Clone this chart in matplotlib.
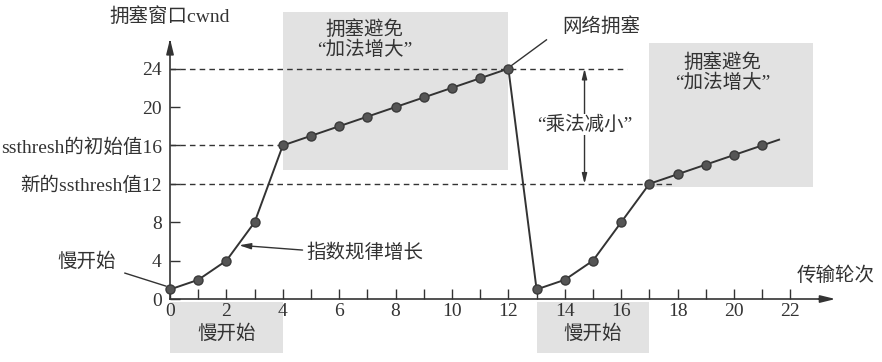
import matplotlib.pyplot as plt
from matplotlib.patches import Rectangle

plt.rcParams['font.family'] = ['Liberation Serif', 'Noto Sans CJK SC', 'DejaVu Sans']

# transmission rounds and cwnd values
rounds = [0, 1, 2, 3, 4, 5, 6, 7, 8, 9, 10, 11, 12, 13, 14, 15, 16, 17, 18, 19, 20, 21]
cwnd = [1, 2, 4, 8, 16, 17, 18, 19, 20, 21, 22, 23, 24, 1, 2, 4, 8, 12, 13, 14, 15, 16]
tail_round, tail_cwnd = 21.6, 16.6

x_ticks = [0, 2, 4, 6, 8, 10, 12, 14, 16, 18, 20, 22]
y_ticks = [0, 4, 8, 12, 16, 20, 24]
y_labels = ['0', '4', '8', '新的ssthresh值12', 'ssthresh的初始值16', '20', '24']

# shaded phases: (x0, x1, y0, y1)
avoid_boxes = [(4, 12, 13.4, 29.9), (17, 22.8, 11.7, 26.7)]
slow_boxes = [(0, 4), (13, 17)]

ink = '#333333'
shade = '#e2e2e2'
fs = 14

fig = plt.figure(figsize=(8.82, 3.62), dpi=100)
ax = fig.add_axes([0, 0, 1, 1])
ax.set_xlim(-6.03, 25.25)
ax.set_ylim(-6.56, 31.15)
ax.patch.set_alpha(0)

for x0, x1, y0, y1 in avoid_boxes:
    ax.add_patch(Rectangle((x0, y0), x1 - x0, y1 - y0, color=shade, lw=0, zorder=0))
for x0, x1 in slow_boxes:
    ax.add_patch(Rectangle((x0, -5.6), x1 - x0, 5.3, color=shade, lw=0, zorder=0))
    ax.text((x0 + x1) / 2, -3.6, '慢开始', ha='center', va='center', fontsize=fs, color=ink)

# dashed reference lines
ax.plot([0, 16.2], [24, 24], ls=(0, (4, 3)), color=ink, lw=1)
ax.plot([0, 4], [16, 16], ls=(0, (4, 3)), color=ink, lw=1)
ax.plot([0, 17.9], [12, 12], ls=(0, (4, 3)), color=ink, lw=1)

xs = rounds + [tail_round]
ys = cwnd + [tail_cwnd]
ax.plot(xs, ys, color=ink, lw=1.4, marker='o', ms=6.5, mfc='#555555', mec='#3a3a3a',
        markevery=list(range(len(rounds))), zorder=3)

# axes as arrows
for s in ['top', 'right']:
    ax.spines[s].set_visible(False)
ax.spines['left'].set_position(('data', 0))
ax.spines['bottom'].set_position(('data', 0))
ax.spines['left'].set_bounds(0, 26.5)
ax.spines['bottom'].set_bounds(0, 23)
for s in ['left', 'bottom']:
    ax.spines[s].set_color(ink)
    ax.spines[s].set_linewidth(1.2)
ax.annotate('', xy=(0, 27.4), xytext=(0, 26.3),
            arrowprops=dict(arrowstyle='-|>,head_length=0.9,head_width=0.22', color=ink, lw=1.2))
ax.annotate('', xy=(23.7, 0), xytext=(22.9, 0),
            arrowprops=dict(arrowstyle='-|>,head_length=0.9,head_width=0.22', color=ink, lw=1.2))

ax.set_xticks(x_ticks)
ax.set_xticklabels([str(v) for v in x_ticks])
ax.set_xticks(rounds[1::2], minor=True)
ax.set_yticks(y_ticks)
ax.set_yticklabels(y_labels)
ax.tick_params(axis='x', which='both', direction='in', length=7, width=1, color=ink,
               labelsize=fs, labelcolor=ink, pad=3)
ax.tick_params(axis='y', direction='in', length=7, width=1, color=ink,
               labelsize=fs, labelcolor=ink, pad=6)

ax.text(0, 29.4, '拥塞窗口cwnd', ha='center', va='center', fontsize=fs, color=ink)
ax.text(23.6, 2.4, '传输轮次', ha='center', va='center', fontsize=fs, color=ink)
ax.text(6.9, 27.0, '拥塞避免\n“加法增大”', ha='center', va='center', fontsize=fs,
        color=ink, linespacing=1.1)
ax.text(19.6, 23.6, '拥塞避免\n“加法增大”', ha='center', va='center', fontsize=fs,
        color=ink, linespacing=1.1)

# network congestion label with leader line
ax.text(15.3, 28.4, '网络拥塞', ha='center', va='center', fontsize=fs, color=ink)
ax.plot([13.35, 12.1], [27.0, 24.3], color=ink, lw=1)

# slow start label with leader line
ax.text(-2.95, 3.9, '慢开始', ha='center', va='center', fontsize=fs, color=ink)
ax.plot([-1.6, -0.15], [2.7, 1.35], color=ink, lw=1)

# exponential growth label with arrow
ax.text(4.85, 4.8, '指数规律增长', ha='left', va='center', fontsize=fs, color=ink)
ax.annotate('', xy=(2.45, 5.6), xytext=(4.7, 5.1),
            arrowprops=dict(arrowstyle='-|>,head_length=0.7,head_width=0.18', color=ink,
                            lw=1, shrinkA=0, shrinkB=0))

# multiplicative decrease arrow
ax.annotate('', xy=(14.7, 24), xytext=(14.7, 12),
            arrowprops=dict(arrowstyle='<|-|>,head_length=0.6,head_width=0.15', color=ink,
                            lw=1, shrinkA=0, shrinkB=0))
ax.text(14.7, 18.2, '“乘法减小”', ha='center', va='center', fontsize=fs, color=ink,
        bbox=dict(facecolor='white', edgecolor='none', pad=1))

fig.savefig('out.png', dpi=100)
